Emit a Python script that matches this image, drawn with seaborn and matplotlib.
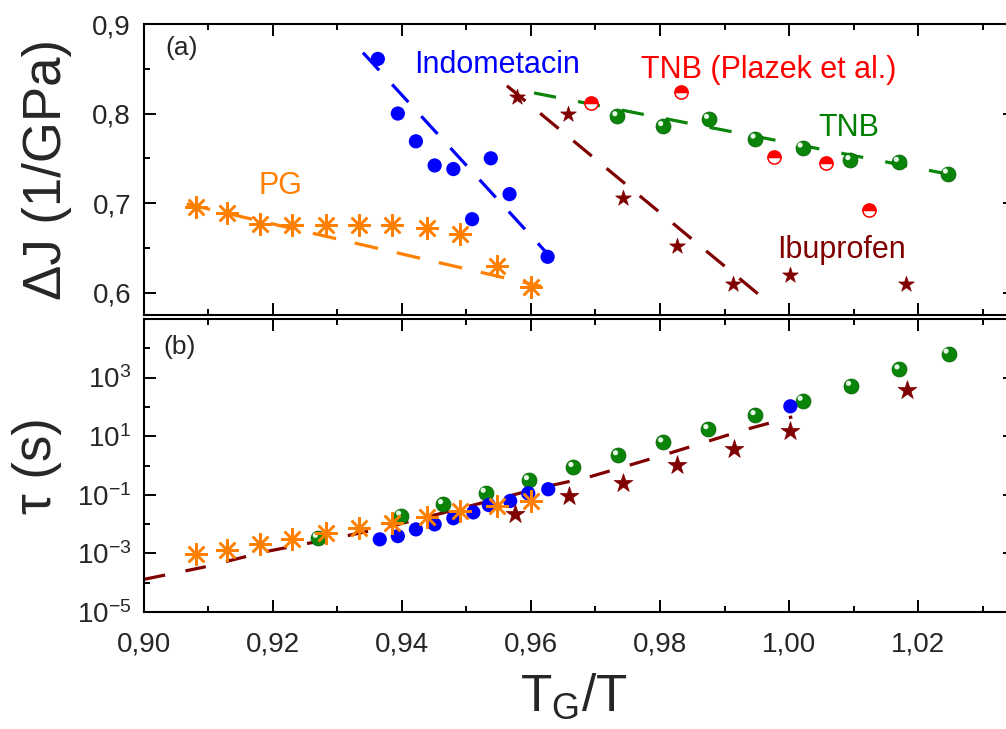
import numpy as np
import matplotlib
matplotlib.use("Agg")
import matplotlib.pyplot as plt
import matplotlib.ticker as mticker
import matplotlib.transforms as mtransforms
import seaborn as sns

# ---------------- data ----------------
# panel (a): Delta J (1/GPa) vs TG/T
indo_x_a = [0.9363, 0.9394, 0.9422, 0.9451, 0.9480, 0.9509, 0.9538, 0.9567, 0.9626]
indo_dj = [0.861, 0.800, 0.769, 0.742, 0.738, 0.682, 0.750, 0.710, 0.640]
indo_fit_x = [0.9340, 0.9625]
indo_fit_dj = [0.868, 0.644]

pg_x = [0.9082, 0.9130, 0.9180, 0.9230, 0.9282, 0.9334, 0.9385, 0.9439, 0.9491, 0.9547, 0.9600]
pg_dj = [0.696, 0.689, 0.677, 0.675, 0.675, 0.675, 0.675, 0.672, 0.666, 0.630, 0.606]
pg_fit_x = [0.9067, 0.9616]
pg_fit_dj = [0.699, 0.607]

ibu_x_a = [0.9578, 0.9658, 0.9743, 0.9827, 0.9913, 1.0002, 1.0181]
ibu_dj = [0.819, 0.800, 0.706, 0.652, 0.610, 0.620, 0.610]
ibu_fit_x = [0.9563, 0.9973]
ibu_fit_dj = [0.831, 0.586]

tnb_x_a = [0.9734, 0.9805, 0.9876, 0.9948, 1.0021, 1.0095, 1.0170, 1.0246]
tnb_dj = [0.797, 0.786, 0.794, 0.772, 0.762, 0.748, 0.746, 0.733]
tnb_fit_x = [0.9605, 1.0263]
tnb_fit_dj = [0.823, 0.730]

plazek_x = [0.9693, 0.9833, 0.9976, 1.0057, 1.0124]
plazek_dj = [0.812, 0.824, 0.752, 0.745, 0.692]

# panel (b): log10(tau / s) vs TG/T
pg_logtau = [-3.02, -2.88, -2.69, -2.50, -2.31, -2.14, -1.97, -1.77, -1.55, -1.38, -1.20]

indo_x_b = [0.9366, 0.9394, 0.9422, 0.9451, 0.9480, 0.9511, 0.9535, 0.9568, 0.9596, 0.9627, 1.0002]
indo_logtau = [-2.52, -2.41, -2.18, -2.01, -1.80, -1.60, -1.35, -1.21, -0.95, -0.81, 2.02]

tnb_x_b = [0.9270, 0.9399, 0.9464, 0.9530, 0.9597, 0.9666, 0.9735, 0.9805, 0.9875,
           0.9948, 1.0021, 1.0096, 1.0171, 1.0247]
tnb_logtau = [-2.47, -1.71, -1.32, -0.93, -0.50, -0.05, 0.35, 0.79, 1.24,
              1.72, 2.21, 2.72, 3.28, 3.82]

ibu_x_b = [0.9576, 0.9659, 0.9743, 0.9827, 0.9914, 1.0002, 1.0182]
ibu_logtau = [-1.67, -1.05, -0.59, 0.01, 0.57, 1.19, 2.58]

fit_x_b = [0.9002, 0.9093, 0.9189, 0.9308, 0.9375, 0.9621, 0.9686, 0.9748, 0.9809, 0.9869, 0.9930, 1.0005]
fit_logtau_b = [-3.88, -3.47, -2.94, -2.43, -2.12, -0.73, -0.42, -0.02, 0.38, 0.79, 1.21, 1.66]

x_ticks = [0.90, 0.92, 0.94, 0.96, 0.98, 1.00, 1.02]
dj_ticks = [0.6, 0.7, 0.8, 0.9]
tau_major = [-5, -3, -1, 1, 3]
tau_minor = [-4, -2, 0, 2, 4]

# ---------------- style ----------------
BLUE = "#0000FF"
ORANGE = "#FF8000"
GREEN = "#0A850A"
DARKRED = "#800000"
RED = "#FF0000"

sns.set_theme(style="ticks")
plt.rcParams["font.family"] = ["Liberation Sans", "DejaVu Sans"]
plt.rcParams.update({
    "mathtext.fontset": "custom",
    "mathtext.rm": "Liberation Sans",
    "mathtext.it": "Liberation Sans:italic",
    "mathtext.bf": "Liberation Sans:bold",
    "axes.linewidth": 1.5,
    "axes.edgecolor": "black",
    "axes.facecolor": "white",
    "figure.facecolor": "white",
})

W, H = 1006, 729
fig = plt.figure(figsize=(W / 100, H / 100), dpi=100)


def px_rect(l, t, r, b):
    return [l / W, 1 - b / H, (r - l) / W, (b - t) / H]


axA = fig.add_axes(px_rect(143.5, 24, 1015, 315))
axB = fig.add_axes(px_rect(143.5, 319, 1015, 612))

comma = mticker.FuncFormatter(lambda v, p: ("%.2f" % v).replace(".", ","))
comma1 = mticker.FuncFormatter(lambda v, p: ("%.1f" % v).replace(".", ","))


def dashed(ax, x, y, color, dashes, lw=2.3):
    sns.lineplot(x=x, y=y, ax=ax, color=color, linewidth=lw, sort=False,
                 estimator=None, zorder=2.5, legend=False)
    ax.lines[-1].set_dashes(dashes)


def spheres(ax, x, y, s):
    sns.scatterplot(x=x, y=y, ax=ax, color=GREEN, s=s, edgecolor="#066806",
                    linewidth=0.6, zorder=3, legend=False)
    tr = mtransforms.offset_copy(ax.transData, fig=fig, x=-1.8, y=1.8, units="points")
    ax.scatter(x, y, s=s * 0.12, color="#e8f8e8", edgecolor="none", transform=tr, zorder=3.1)


# ---------------- panel (a) ----------------
ax = axA
sns.scatterplot(x=indo_x_a, y=indo_dj, ax=ax, color=BLUE, s=105, edgecolor="none",
                zorder=3, legend=False)
ax.plot(pg_x, pg_dj, ls="none", marker=(8, 2, 0), ms=16, mew=1.8, color=ORANGE, zorder=3)
sns.scatterplot(x=ibu_x_a, y=ibu_dj, ax=ax, color=DARKRED, marker="*", s=140,
                edgecolor=DARKRED, linewidth=0.5, zorder=3, legend=False)
spheres(ax, tnb_x_a, tnb_dj, 115)
ax.plot(plazek_x, plazek_dj, ls="none", marker="o", ms=9.5, mfc=RED, mfcalt="white",
        mec=RED, mew=1.1, fillstyle="top", zorder=3)

dashed(ax, indo_fit_x, indo_fit_dj, BLUE, [7.5, 6])
dashed(ax, pg_fit_x, pg_fit_dj, ORANGE, [7.5, 6])
dashed(ax, ibu_fit_x, ibu_fit_dj, DARKRED, [7.5, 6])
dashed(ax, tnb_fit_x, tnb_fit_dj, GREEN, [7, 7])

ax.text(0.9419, 0.8542, "Indometacin", color=BLUE, fontsize=22, ha="left", va="center")
ax.text(0.9771, 0.8487, "TNB (Plazek et al.)", color=RED, fontsize=22, ha="left", va="center")
ax.text(1.0046, 0.7836, "TNB", color="#008000", fontsize=22, ha="left", va="center")
ax.text(0.9981, 0.6478, "Ibuprofen", color=DARKRED, fontsize=22, ha="left", va="center")
ax.text(0.9178, 0.7192, "PG", color=ORANGE, fontsize=22, ha="left", va="center")
ax.text(0.0438, 0.9165, "(a)", transform=ax.transAxes, fontsize=19, ha="center", va="center")

ax.set_xlim(0.90, 1.035)
ax.set_ylim(0.575, 0.90)
ax.xaxis.set_major_locator(mticker.FixedLocator(x_ticks))
ax.xaxis.set_minor_locator(mticker.MultipleLocator(0.01))
ax.yaxis.set_major_locator(mticker.FixedLocator(dj_ticks))
ax.yaxis.set_minor_locator(mticker.MultipleLocator(0.05))
ax.yaxis.set_major_formatter(comma1)
ax.set_ylabel("ΔJ (1/GPa)", fontsize=38)
ax.yaxis.set_label_coords(-0.082, 0.5)
ax.set_xlabel("")
ax.tick_params(axis="both", which="both", direction="in", top=True, right=True,
               labelbottom=False, width=1.4, color="black", labelsize=20)
ax.tick_params(axis="both", which="major", length=8.5)
ax.tick_params(axis="both", which="minor", length=4.5)
ax.tick_params(axis="y", which="major", pad=9)

# ---------------- panel (b) ----------------
ax = axB
dashed(ax, fit_x_b, np.power(10.0, fit_logtau_b), DARKRED, [6.5, 6.5])
spheres(ax, tnb_x_b, np.power(10.0, tnb_logtau), 115)
sns.scatterplot(x=indo_x_b, y=np.power(10.0, indo_logtau), ax=ax, color=BLUE, s=105,
                edgecolor="none", zorder=3.2, legend=False)
sns.scatterplot(x=ibu_x_b, y=np.power(10.0, ibu_logtau), ax=ax, color=DARKRED, marker="*",
                s=200, edgecolor=DARKRED, linewidth=0.5, zorder=3.3, legend=False)
ax.plot(pg_x, np.power(10.0, pg_logtau), ls="none", marker=(8, 2, 0), ms=16, mew=1.8,
        color=ORANGE, zorder=3.4)
ax.text(0.0411, 0.9055, "(b)", transform=ax.transAxes, fontsize=19, ha="center", va="center")

ax.set_yscale("log")
ax.set_xlim(0.90, 1.035)
ax.set_ylim(1e-5, 1e5)
ax.xaxis.set_major_locator(mticker.FixedLocator(x_ticks))
ax.xaxis.set_minor_locator(mticker.MultipleLocator(0.01))
ax.xaxis.set_major_formatter(comma)
ax.yaxis.set_major_locator(mticker.FixedLocator([10.0 ** e for e in tau_major]))
ax.yaxis.set_minor_locator(mticker.FixedLocator([10.0 ** e for e in tau_minor]))
ax.yaxis.set_major_formatter(mticker.FuncFormatter(
    lambda v, p: r"$\mathregular{10^{%d}}$" % int(round(np.log10(v)))))
ax.yaxis.set_minor_formatter(mticker.NullFormatter())
ax.set_ylabel("τ (s)", fontsize=38)
ax.yaxis.set_label_coords(-0.0935, 0.5)
ax.set_xlabel(r"$\mathregular{T_G/T}$", fontsize=37)
ax.xaxis.set_label_coords(0.494, -0.205)
ax.tick_params(axis="both", which="both", direction="in", top=True, right=True,
               width=1.4, color="black", labelsize=20)
ax.tick_params(axis="both", which="major", length=8.5)
ax.tick_params(axis="both", which="minor", length=4.5)
ax.tick_params(axis="y", which="major", pad=9)
ax.tick_params(axis="x", which="major", pad=14)

fig.savefig("out.png", dpi=100)
